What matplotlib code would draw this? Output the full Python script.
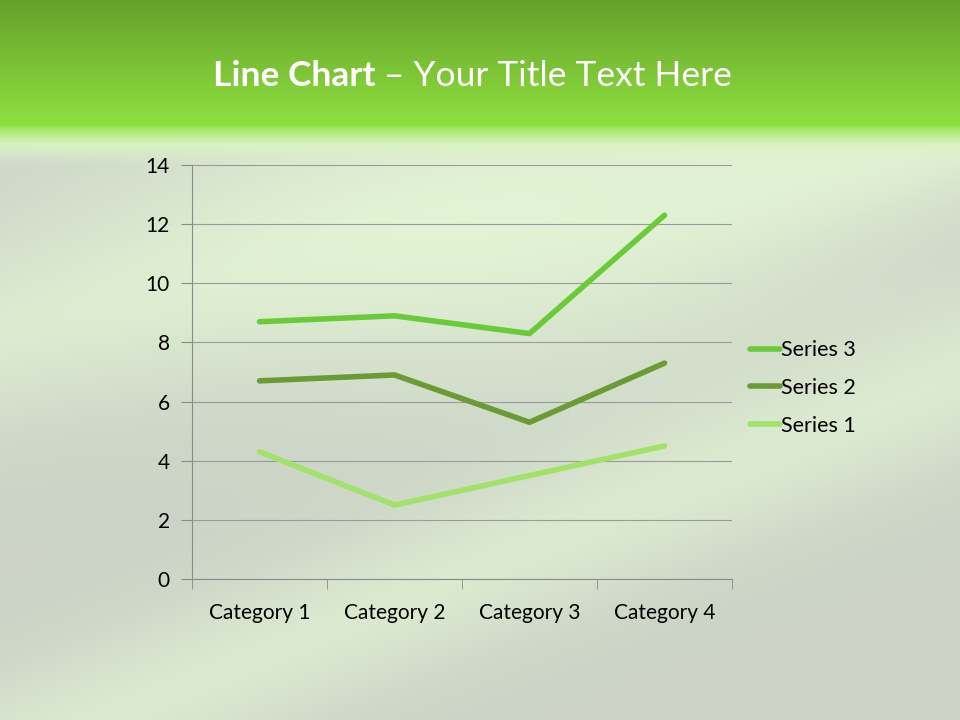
import matplotlib.pyplot as plt
import numpy as np

plt.rcParams['font.family'] = ['Lato', 'DejaVu Sans']

# 数据：堆积折线图（每个系列的原始值）
categories = ['Category 1', 'Category 2', 'Category 3', 'Category 4']
series_1 = [4.3, 2.5, 3.5, 4.5]
series_2 = [2.4, 4.4, 1.8, 2.8]
series_3 = [2.0, 2.0, 3.0, 5.0]
series_names = ['Series 1', 'Series 2', 'Series 3']
series_colors = ['#a3e26a', '#6a9b35', '#6acb3a']
y_ticks = [0, 2, 4, 6, 8, 10, 12, 14]

fig = plt.figure(figsize=(9.6, 7.2), dpi=100)

# 背景：浅灰绿色底 + 柔和条纹
H, W = 720, 960
yy, xx = np.mgrid[0:H, 0:W].astype(float)
img = np.ones((H, W, 3)) * np.array([0.80, 0.83, 0.78])
light = np.array([0.90, 0.97, 0.84])
band1 = np.exp(-((yy - (330 - 0.25 * xx)) / 90.0) ** 2)
band2 = np.exp(-((yy - (760 - 0.40 * xx)) / 80.0) ** 2)
band3 = np.exp(-((yy - (420 - 0.30 * xx)) / 60.0) ** 2) * (1 / (1 + np.exp(-(xx - 650) / 60.0)))
glow = np.exp(-(((xx - 480) / 380.0) ** 2 + ((yy - 230) / 160.0) ** 2))
for b, w in ((band1, 0.6), (band2, 0.6), (band3, 0.6), (glow, 0.7)):
    img = img + (light - img) * (b[..., None] * w)

# 顶部标题栏渐变，向下柔和过渡
top = np.array([0.40, 0.63, 0.17])
bot = np.array([0.56, 0.88, 0.25])
t = np.clip(yy / 125.0, 0, 1)[..., None]
head = top + (bot - top) * t
fade = np.clip((yy - 125) / 40.0, 0, 1)[..., None]
fade = fade ** 0.7
mid = np.array([0.86, 0.95, 0.78])
after = bot + (mid - bot) * np.clip(fade * 1.6, 0, 1)
after = after + (img - after) * np.clip((fade - 0.6) / 0.4, 0, 1)
img = np.where(yy[..., None] < 125, head, np.where(yy[..., None] < 165, after, img))

bg = fig.add_axes([0, 0, 1, 1])
bg.imshow(np.clip(img, 0, 1), aspect='auto', extent=[0, 1, 0, 1])
bg.axis('off')

# 标题
renderer = fig.canvas.get_renderer()
t1 = fig.text(0, 0.895, 'Line Chart', fontsize=25.5, fontweight='bold', color='white', va='center')
t2 = fig.text(0, 0.895, ' – Your Title Text Here', fontsize=25.5, color='white', va='center')
w1 = t1.get_window_extent(renderer).width / W
w2 = t2.get_window_extent(renderer).width / W
x0 = 0.492 - (w1 + w2) / 2
t1.set_x(x0)
t2.set_x(x0 + w1)

# 图表区
ax = fig.add_axes([192 / W, 1 - 579 / H, 540 / W, 414 / H])
ax.patch.set_alpha(0)
x = np.arange(len(categories))
stacked = np.cumsum([series_1, series_2, series_3], axis=0)
lines = []
for vals, name, c in zip(stacked, series_names, series_colors):
    ln, = ax.plot(x, vals, color=c, lw=4, solid_capstyle='round', label=name)
    lines.append(ln)

ax.set_xlim(-0.5, len(categories) - 0.5)
ax.set_ylim(0, 14)
ax.set_yticks(y_ticks)
ax.set_yticklabels([str(v) for v in y_ticks], fontsize=15)
ax.set_xticks(x)
ax.set_xticklabels(categories, fontsize=15)
ax.set_xticks(np.arange(-0.5, len(categories)), minor=True)
ax.tick_params(axis='x', which='major', length=0, pad=17)
ax.tick_params(axis='x', which='minor', length=7, color='#8a8a8a', direction='out')
ax.tick_params(axis='y', length=8, color='#8a8a8a', pad=8)
ax.grid(axis='y', color='#9a9a9a', lw=0.8)
ax.set_axisbelow(True)
for s in ['top', 'right']:
    ax.spines[s].set_visible(False)
ax.spines['left'].set_color('#8a8a8a')
ax.spines['bottom'].set_color('#8a8a8a')

leg = fig.legend(lines[::-1], [l.get_label() for l in lines[::-1]],
                 loc='center left', bbox_to_anchor=(750 / W, 1 - 388 / H),
                 frameon=False, fontsize=15.5, handlelength=1.4, handletextpad=0.05,
                 labelspacing=0.82, borderaxespad=0, borderpad=0)

fig.savefig('out.png', dpi=100)
